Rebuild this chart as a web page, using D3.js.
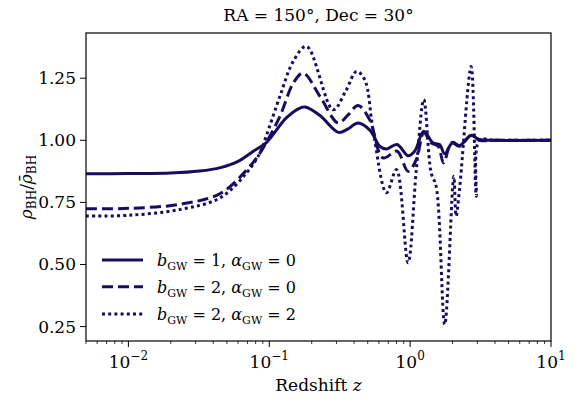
<!DOCTYPE html>
<html><head><meta charset="utf-8">
<script src="https://cdn.jsdelivr.net/npm/d3@7"></script>
<style>body{margin:0;background:#fff}svg text{font-family:"DejaVu Serif",serif;fill:#000}</style>
</head><body><svg id="c" width="576" height="407"></svg>
<script>
const zSolid=[0.005,0.01,0.02,0.032,0.045,0.06,0.077,0.095,0.132,0.165,0.18,0.229,0.31,0.36,0.427,0.52,0.608,0.679,0.807,0.966,1.077,1.25,1.45,1.62,1.76,2.01,2.24,2.71,3.11,4,10];
const vSolid=[0.865,0.866,0.868,0.876,0.89,0.915,0.956,0.99,1.09,1.13,1.134,1.10,1.032,1.045,1.07,1.04,0.976,0.965,0.983,0.938,0.956,1.036,0.99,0.983,0.946,0.992,0.979,1.019,1.003,1.0,1.0];
const zDash=[0.005,0.01,0.023,0.0446,0.069,0.086,0.095,0.119,0.148,0.174,0.229,0.308,0.36,0.427,0.516,0.641,0.807,0.966,1.106,1.25,1.41,1.58,1.73,1.96,2.24,2.71,3.1,4,10];
const vDash=[0.724,0.726,0.742,0.785,0.88,0.949,0.99,1.096,1.23,1.271,1.177,1.07,1.10,1.14,1.083,0.929,0.956,0.875,0.922,1.03,0.99,0.976,0.909,0.99,0.976,1.02,1.0,1.0,1.0];
const zDot=[0.005,0.01,0.023,0.0446,0.069,0.086,0.095,0.119,0.148,0.184,0.284,0.35,0.416,0.476,0.545,0.679,0.80,0.966,1.106,1.25,1.41,1.53,1.76,2.04,2.12,2.24,2.71,2.95,3.1,4,10];
const vDot=[0.695,0.698,0.721,0.768,0.869,0.95,1.016,1.177,1.318,1.378,1.123,1.2,1.277,1.244,1.043,0.789,0.882,0.507,0.882,1.164,0.869,0.815,0.259,0.855,0.695,0.80,1.297,0.775,1.0,1.0,1.0];
const yTicks=[0.25,0.5,0.75,1.0,1.25];
const xTicks=[0.01,0.1,1,10];
const xExp=["−2","−1","0","1"];
const col="#1b0b5f";
const svg=d3.select("#c");
const L=86,R=551,T=33,B=341;
const x=d3.scaleLog().domain([0.005,10]).range([L,R]);
const y=d3.scaleLinear().domain([0.192,1.432]).range([B,T]);
const g=svg.append("g");
const line=d3.line().x(d=>x(d[0])).y(d=>y(d[1])).curve(d3.curveCatmullRom.alpha(0.5));
const series=[[zSolid,vSolid,null],[zDash,vDash,"11,5"],[zDot,vDot,"3,3.2"]];
svg.append("clipPath").attr("id","cp").append("rect").attr("x",L).attr("y",T).attr("width",R-L).attr("height",B-T);
series.forEach(([zs,vs,da])=>{
  g.append("path").attr("d",line(zs.map((z,i)=>[z,vs[i]]))).attr("fill","none").attr("stroke",col).attr("stroke-width",3).attr("stroke-dasharray",da).attr("clip-path","url(#cp)");
});
svg.append("rect").attr("x",L).attr("y",T).attr("width",R-L).attr("height",B-T).attr("fill","none").attr("stroke","#000").attr("stroke-width",1.2);
const minor=[];for(let e=-3;e<1;e++)for(let k=2;k<10;k++){const v=k*Math.pow(10,e);if(v>=0.005&&v<=10)minor.push(v);}
minor.forEach(v=>svg.append("line").attr("x1",x(v)).attr("x2",x(v)).attr("y1",B).attr("y2",B+3).attr("stroke","#000").attr("stroke-width",0.8));
xTicks.forEach((v,i)=>{
  svg.append("line").attr("x1",x(v)).attr("x2",x(v)).attr("y1",B).attr("y2",B+6).attr("stroke","#000").attr("stroke-width",1);
  const t=svg.append("text").attr("x",x(v)).attr("y",B+27).attr("font-size",17).attr("text-anchor","middle");
  t.append("tspan").text("10");t.append("tspan").attr("dy",-8).attr("font-size",12).text(xExp[i]);
});
yTicks.forEach(v=>{
  svg.append("line").attr("x1",L-6).attr("x2",L).attr("y1",y(v)).attr("y2",y(v)).attr("stroke","#000").attr("stroke-width",1);
  svg.append("text").attr("x",L-10).attr("y",y(v)+6).attr("font-size",17).attr("text-anchor","end").text(v.toFixed(2));
});
svg.append("text").attr("x",(L+R)/2).attr("y",21).attr("font-size",17).attr("text-anchor","middle").text("RA = 150°, Dec = 30°");
const xl=svg.append("text").attr("x",(L+R)/2).attr("y",391).attr("font-size",17).attr("text-anchor","middle");
xl.append("tspan").text("Redshift ");xl.append("tspan").attr("font-style","italic").text("z");
const yl=svg.append("text").attr("transform",`translate(32,${(T+B)/2}) rotate(-90)`).attr("font-size",17).attr("text-anchor","middle");
yl.append("tspan").attr("font-style","italic").text("ρ");yl.append("tspan").attr("font-size",12).attr("dy",4).text("BH");
yl.append("tspan").attr("dy",-4).text("/");yl.append("tspan").attr("font-style","italic").text("ρ̄");yl.append("tspan").attr("font-size",12).attr("dy",4).text("BH");
const labels=[["1","0"],["2","0"],["2","2"]];const rows=[260,286.7,314];
labels.forEach((lb,i)=>{
  svg.append("line").attr("x1",102).attr("x2",143).attr("y1",rows[i]).attr("y2",rows[i]).attr("stroke",col).attr("stroke-width",3).attr("stroke-dasharray",series[i][2]);
  const t=svg.append("text").attr("x",157).attr("y",rows[i]+6).attr("font-size",16);
  t.append("tspan").attr("font-style","italic").text("b");t.append("tspan").attr("font-size",11).attr("dy",4).text("GW");
  t.append("tspan").attr("dy",-4).text(" = "+lb[0]+", ");t.append("tspan").attr("font-style","italic").text("α");
  t.append("tspan").attr("font-size",11).attr("dy",4).text("GW");t.append("tspan").attr("dy",-4).text(" = "+lb[1]);
});
</script></body></html>
